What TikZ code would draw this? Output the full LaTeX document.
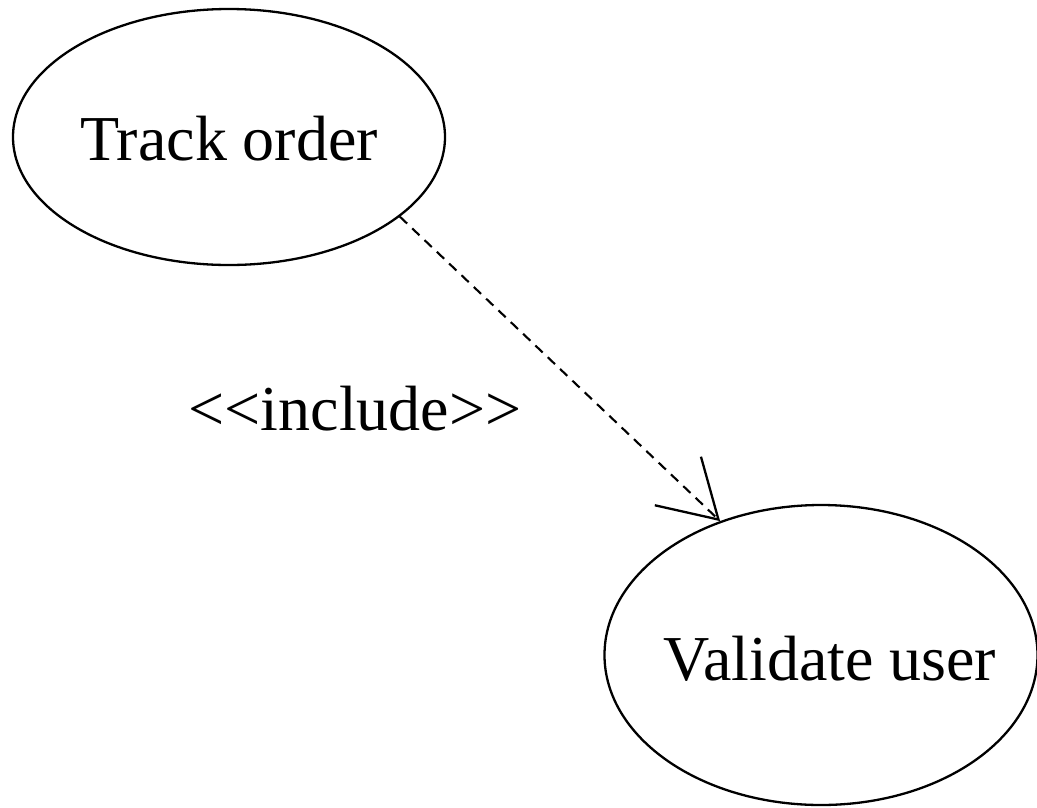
\documentclass[tikz,border=0pt]{standalone}
\usepackage{fontspec}
\setmainfont{Liberation Serif}
\usetikzlibrary{shapes.geometric,arrows.meta}
\begin{document}
\begin{tikzpicture}[x=1pt,y=-1pt,
  usecase/.style={ellipse,draw=black,line width=2.3pt,inner sep=0pt},
  lbl/.style={inner sep=0pt,anchor=base,font=\fontsize{64}{70}\selectfont},
  incl/.style={line width=2.1pt,dash pattern=on 10pt off 7pt,
    -{Straight Barb[length=56pt,width=67pt,line width=2.3pt]}}]
\useasboundingbox (0,0) rectangle (1037,807);
\node[usecase,minimum width=432pt,minimum height=256pt] (track) at (229,137) {};
\node[usecase,minimum width=433pt,minimum height=300pt] (validate) at (821,655) {};
\node[lbl] (tracktxt) at (229,160) {Track order};
\node[lbl] (validatetxt) at (830,680) {Validate user};
\node[lbl] (incltxt) at (355,430) {<\kern0pt<include>\kern0pt>};
\draw[incl] (track.-25.5) -- (validate.127.9);
\end{tikzpicture}
\end{document}
